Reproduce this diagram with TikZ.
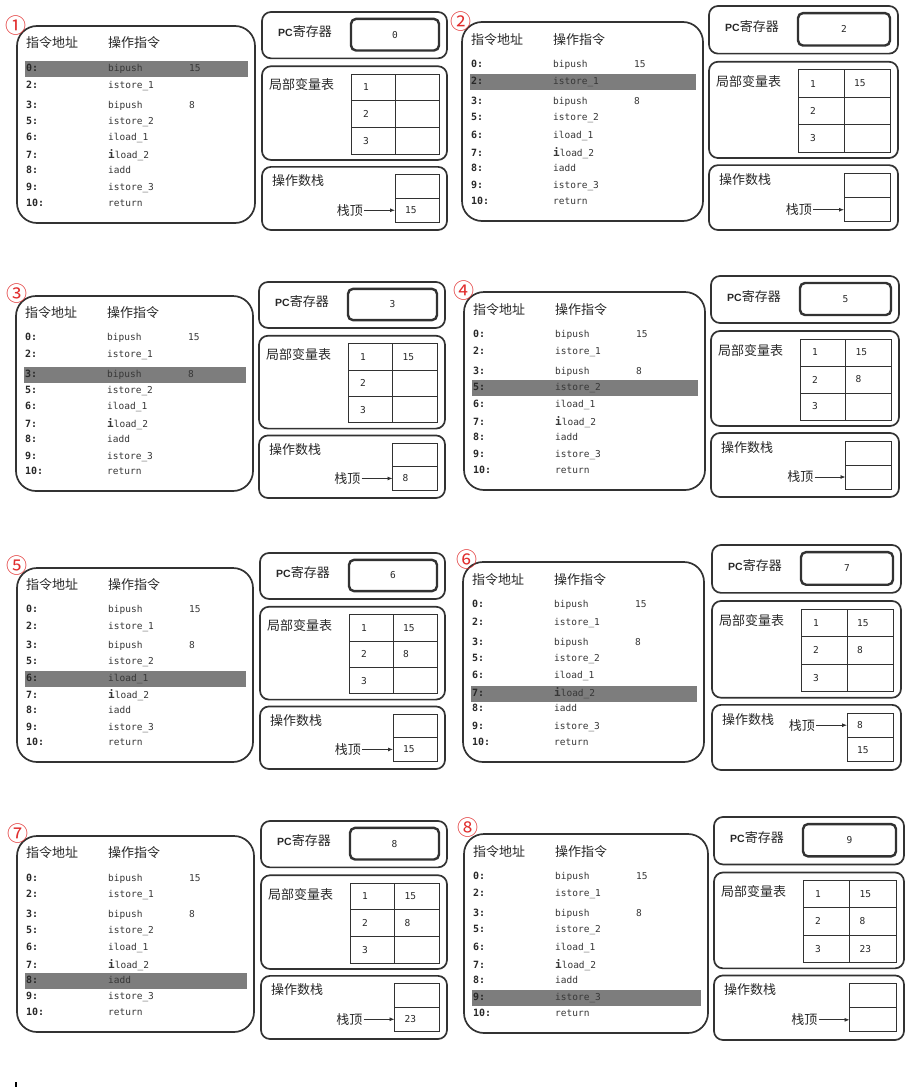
\documentclass[tikz,border=0pt]{standalone}
\usepackage{fontspec}
\usetikzlibrary{arrows.meta}
\setmainfont{Liberation Sans}
\newfontfamily\cjk{Noto Sans CJK SC}
\newfontfamily\mono{DejaVu Sans Mono}
\definecolor{ln}{RGB}{50,50,50}
\definecolor{tx}{RGB}{40,40,40}
\definecolor{tx2}{RGB}{55,55,55}
\definecolor{hlc}{RGB}{125,125,125}
\definecolor{redc}{RGB}{225,45,45}
\tikzset{
 lbox/.style={draw=ln, line width=1.7pt, rounded corners=20pt, inner sep=0pt, outer sep=0pt},
 rbox/.style={draw=ln, line width=1.7pt, rounded corners=9pt, inner sep=0pt, outer sep=0pt},
 pcbox/.style={draw=ln, line width=2.4pt, rounded corners=5pt, inner sep=0pt, outer sep=0pt, font=\mono\fontsize{9.5}{9.5}\selectfont, text=tx},
 gcell/.style={draw=ln, line width=0.9pt, inner sep=0pt, outer sep=0pt},
 hdr/.style={anchor=base west, inner sep=0pt, font=\cjk\fontsize{13}{13}\selectfont, text=tx},
 cjklbl/.style={anchor=base west, inner sep=0pt, font=\cjk\fontsize{13}{13}\selectfont, text=tx},
 toplbl/.style={anchor=east, inner sep=1pt, font=\cjk\fontsize{13}{13}\selectfont, text=tx},
 addr/.style={anchor=base west, inner sep=0pt, font=\mono\bfseries\fontsize{10}{10}\selectfont, text=tx},
 instr/.style={anchor=base west, inner sep=0pt, font=\mono\fontsize{9.5}{9.5}\selectfont, text=tx2},
 valtxt/.style={anchor=west, inner sep=0pt, font=\mono\fontsize{9.5}{9.5}\selectfont, text=tx},
 numc/.style={inner sep=0pt, font=\cjk\fontsize{21}{21}\selectfont, text=redc},
 arr/.style={-{Latex[length=5pt,width=4pt]}, line width=0.8pt, draw=ln},
}
% one row of the instruction list
\newcommand\lrow[7]{%
  \node[addr] (L#1a#5) at ({#2+9},{#3+\sc*#4+3.5}) {#6};
  \node[instr] (L#1i#5) at ({#2+91},{#3+\sc*#4+3.5}) {#7};
}
% id x y w h highlight-offset
\newcommand\leftpanel[6]{%
  \pgfmathsetmacro\sc{#5/198}
  \fill[hlc] ({#2+8},{#3+\sc*#6-7}) rectangle ({#2+#4-7},{#3+\sc*#6+9});
  \node[lbox,minimum width=#4pt,minimum height=#5pt,anchor=north west] (L#1) at (#2,#3) {};
  \node[hdr] (L#1h1) at ({#2+9},{#3+\sc*17+5}) {指令地址};
  \node[hdr] (L#1h2) at ({#2+91},{#3+\sc*17+5}) {操作指令};
  \lrow{#1}{#2}{#3}{42}{0}{0:}{bipush}
  \lrow{#1}{#2}{#3}{59}{2}{2:}{istore\_1}
  \lrow{#1}{#2}{#3}{79}{3}{3:}{bipush}
  \lrow{#1}{#2}{#3}{95}{5}{5:}{istore\_2}
  \lrow{#1}{#2}{#3}{112}{6}{6:}{iload\_1}
  \lrow{#1}{#2}{#3}{130}{7}{7:}{{\bfseries\fontsize{11}{11}\selectfont i}load\_2}
  \lrow{#1}{#2}{#3}{145}{8}{8:}{iadd}
  \lrow{#1}{#2}{#3}{162}{9}{9:}{istore\_3}
  \lrow{#1}{#2}{#3}{178}{10}{10:}{return}
  \node[instr] (L#1o0) at ({#2+172},{#3+\sc*42+3.5}) {15};
  \node[instr] (L#1o3) at ({#2+172},{#3+\sc*79+3.5}) {8};
}
% id x y w H pc v1 v2 v3
\newcommand\rightpanel[9]{%
  \pgfmathsetmacro\rs{#5/221}
  \pgfmathsetmacro\gm{89+(#4-97)/2}
  \node[rbox,minimum width=#4pt,minimum height=\rs*47pt,anchor=north west] (P#1) at (#2,#3) {};
  \node[cjklbl] (P#1t) at ({#2+16},{#3+\rs*20+5}) {{\rmfamily\bfseries\fontsize{10.5}{10.5}\selectfont PC}寄存器};
  \node[pcbox,minimum width={(#4-97)*1pt},minimum height=\rs*32pt] (P#1v) at ({#2+89+(#4-97)/2},{#3+\rs*23}) {#6};
  \node[rbox,minimum width=#4pt,minimum height=\rs*95pt,anchor=north west] (V#1) at (#2,{#3+\rs*55}) {};
  \node[cjklbl] (V#1t) at ({#2+7},{#3+\rs*74+5}) {局部变量表};
  \foreach \r/\k in {0/1,1/2,2/3}{%
    \node[gcell,minimum width={(\gm-89)*1pt},minimum height=\rs*27pt,anchor=north west] (V#1k\k) at ({#2+89},{#3+\rs*(63+27*\r)}) {};
    \node[gcell,minimum width={(#4-8-\gm)*1pt},minimum height=\rs*27pt,anchor=north west] (V#1w\k) at ({#2+\gm},{#3+\rs*(63+27*\r)}) {};
    \node[valtxt] (V#1n\k) at ([xshift=12pt]V#1k\k.west) {\k};
  }
  \if\relax\detokenize{#7}\relax\else\node[valtxt] (V#1v1) at ([xshift=10pt]V#1w1.west) {#7};\fi
  \if\relax\detokenize{#8}\relax\else\node[valtxt] (V#1v2) at ([xshift=10pt]V#1w2.west) {#8};\fi
  \if\relax\detokenize{#9}\relax\else\node[valtxt] (V#1v3) at ([xshift=10pt]V#1w3.west) {#9};\fi
}
% id x y w H top bottom arrow-target(t/b)
\newcommand\stackpanel[8]{%
  \pgfmathsetmacro\rs{#5/221}
  \pgfmathsetmacro\gm{89+(#4-97)/2}
  \node[rbox,minimum width=#4pt,minimum height=\rs*64pt,anchor=north west] (S#1) at (#2,{#3+\rs*157}) {};
  \node[cjklbl] (S#1l) at ({#2+10},{#3+\rs*171+5}) {操作数栈};
  \node[gcell,minimum width={(#4-8-\gm)*1pt},minimum height=\rs*24pt,anchor=north west] (S#1t) at ({#2+\gm},{#3+\rs*165}) {};
  \node[gcell,minimum width={(#4-8-\gm)*1pt},minimum height=\rs*24pt,anchor=north west] (S#1b) at ({#2+\gm},{#3+\rs*189}) {};
  \if\relax\detokenize{#6}\relax\else\node[valtxt] (S#1tv) at ([xshift=10pt]S#1t.west) {#6};\fi
  \if\relax\detokenize{#7}\relax\else\node[valtxt] (S#1bv) at ([xshift=10pt]S#1b.west) {#7};\fi
  \node[toplbl] (S#1k) at ([xshift=-31pt]S#1#8.west) {栈顶};
  \draw[arr] (S#1k.east) -- (S#1#8.west);
}
\begin{document}
\begin{tikzpicture}[x=1pt,y=-1pt]
\useasboundingbox (0,0) rectangle (916,1087);
\fill[white] (0,0) rectangle (916,1087);

\leftpanel{1}{17}{26}{238}{197}{42}
\leftpanel{2}{462}{22}{241}{199}{59}
\leftpanel{3}{16}{296}{237}{195}{79}
\leftpanel{4}{464}{292}{241}{198}{95}
\leftpanel{5}{17}{568}{236}{194}{112}
\leftpanel{6}{463}{562}{241}{200}{130}
\leftpanel{7}{17}{836}{237}{196}{145}
\leftpanel{8}{464}{834}{244}{199}{162}

\rightpanel{1}{262}{12}{185}{218}{0}{}{}{}
\rightpanel{2}{709}{6}{189}{224}{2}{15}{}{}
\rightpanel{3}{259}{282}{186}{216}{3}{15}{}{}
\rightpanel{4}{711}{276}{188}{221}{5}{15}{8}{}
\rightpanel{5}{260}{553}{185}{216}{6}{15}{8}{}
\rightpanel{6}{712}{545}{189}{225}{7}{15}{8}{}
\rightpanel{7}{261}{821}{186}{218}{8}{15}{8}{}
\rightpanel{8}{714}{817}{190}{223}{9}{15}{8}{23}

\stackpanel{1}{262}{12}{185}{218}{}{15}{b}
\stackpanel{2}{709}{6}{189}{224}{}{}{b}
\stackpanel{3}{259}{282}{186}{216}{}{8}{b}
\stackpanel{4}{711}{276}{188}{221}{}{}{b}
\stackpanel{5}{260}{553}{185}{216}{}{15}{b}
\stackpanel{6}{712}{545}{189}{225}{8}{15}{t}
\stackpanel{7}{261}{821}{186}{218}{}{23}{b}
\stackpanel{8}{714}{817}{190}{223}{}{}{b}

\node[numc] (N1) at (16,26) {①};
\node[numc] (N2) at (461,22) {②};
\node[numc] (N3) at (16.5,293.5) {③};
\node[numc] (N4) at (463.5,290.5) {④};
\node[numc] (N5) at (16.5,565.5) {⑤};
\node[numc] (N6) at (466.5,559.5) {⑥};
\node[numc] (N7) at (17.5,833.5) {⑦};
\node[numc] (N8) at (467.5,827.5) {⑧};

\fill[black] (15,1082) rectangle (16.5,1087);
\end{tikzpicture}
\end{document}
